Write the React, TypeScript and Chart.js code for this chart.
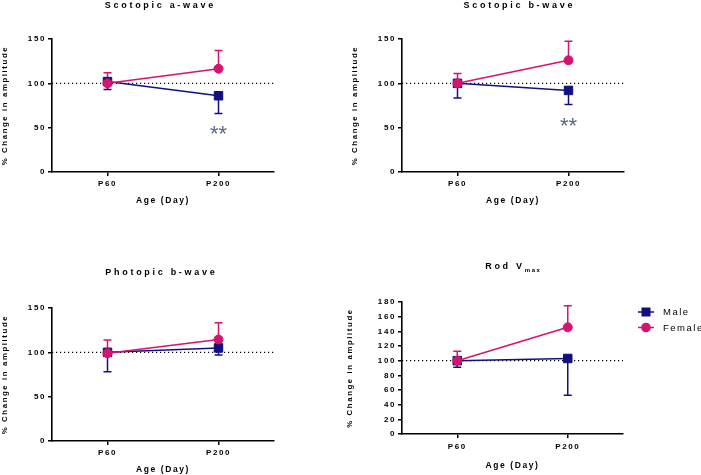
import React, { useEffect, useRef } from "react";
import { Chart, registerables } from "chart.js";
Chart.register(...registerables);

// ---------- data ----------
const ageLabels = ["P60", "P200"];

const scotopicAMale = [102, 86];
const scotopicAMaleErr = [9, 20];
const scotopicAFemale = [100, 116.5];
const scotopicAFemaleErr = [12, 20.5];

const scotopicBMale = [100, 92];
const scotopicBMaleErr = [16.5, 16];
const scotopicBFemale = [100, 126];
const scotopicBFemaleErr = [11, 21.5];

const photopicBMale = [100, 105];
const photopicBMaleErr = [22, 8];
const photopicBFemale = [99, 114.5];
const photopicBFemaleErr = [15, 19];

const rodVmaxMale = [100, 103];
const rodVmaxMaleErr = [9, 50];
const rodVmaxFemale = [100, 145.5];
const rodVmaxFemaleErr = [13, 29.5];

const yMaxWave = 150;
const yStepWave = 50;
const yMaxRod = 180;
const yStepRod = 20;
const baselineValue = 100;

const sigScotopicA = { text: "**", category: 1, value: 48.5 };
const sigScotopicB = { text: "**", category: 1, value: 58.6 };

const seriesNames = ["Male", "Female"];
const xAxisTitle = "Age (Day)";
const yAxisTitle = "% Change in amplitude";

// ---------- styles ----------
const FONT = 'Arial, "Liberation Sans", sans-serif';
const MALE = "#10107f";
const FEMALE = "#d4146e";
const SIG = "#5b6a85";

type PanelCfg = {
  key: string;
  left: number;
  top: number;
  width: number;
  height: number;
  pad: { left: number; right: number; top: number; bottom: number };
  yWidth: number;
  xHeight: number;
  xTickPad: number;
  yMax: number;
  yStep: number;
  male: number[];
  maleErr: number[];
  female: number[];
  femaleErr: number[];
  title: string;
  titleSub?: string;
  titleX: number;
  titleY: number;
  sig?: { text: string; category: number; value: number };
  legend?: { x: number; y: number; gap: number };
};

const panels: PanelCfg[] = [
  {
    key: "a",
    left: 0, top: 0, width: 330, height: 235,
    pad: { left: 0, right: 56, top: 39, bottom: 29 },
    yWidth: 52, xHeight: 34, xTickPad: 2.5,
    yMax: yMaxWave, yStep: yStepWave,
    male: scotopicAMale, maleErr: scotopicAMaleErr,
    female: scotopicAFemale, femaleErr: scotopicAFemaleErr,
    title: "Scotopic a-wave", titleX: 159, titleY: 5.5,
    sig: sigScotopicA,
  },
  {
    key: "b",
    left: 330, top: 0, width: 371, height: 235,
    pad: { left: 20, right: 77, top: 39, bottom: 29 },
    yWidth: 52, xHeight: 34, xTickPad: 2.5,
    yMax: yMaxWave, yStep: yStepWave,
    male: scotopicBMale, maleErr: scotopicBMaleErr,
    female: scotopicBFemale, femaleErr: scotopicBFemaleErr,
    title: "Scotopic b-wave", titleX: 188, titleY: 5.5,
    sig: sigScotopicB,
  },
  {
    key: "c",
    left: 0, top: 235, width: 330, height: 240,
    pad: { left: 0, right: 56, top: 73, bottom: 0 },
    yWidth: 52, xHeight: 34, xTickPad: 2.5,
    yMax: yMaxWave, yStep: yStepWave,
    male: photopicBMale, maleErr: photopicBMaleErr,
    female: photopicBFemale, femaleErr: photopicBFemaleErr,
    title: "Photopic b-wave", titleX: 160, titleY: 37.5,
  },
  {
    key: "d",
    left: 330, top: 235, width: 371, height: 240,
    pad: { left: 15, right: 78, top: 67, bottom: 4 },
    yWidth: 57, xHeight: 37, xTickPad: 4,
    yMax: yMaxRod, yStep: yStepRod,
    male: rodVmaxMale, maleErr: rodVmaxMaleErr,
    female: rodVmaxFemale, femaleErr: rodVmaxFemaleErr,
    title: "Rod V", titleSub: "max", titleX: 182, titleY: 32,
    legend: { x: 316, y: 77, gap: 15.5 },
  },
];

function makePlugin(p: PanelCfg) {
  return {
    id: "panelExtras",
    beforeUpdate(chart: any) {
      chart.ctx.letterSpacing = "1.6px";
    },
    beforeDraw(chart: any) {
      chart.ctx.letterSpacing = "1.6px";
    },
    beforeDatasetsDraw(chart: any) {
      const { ctx, chartArea } = chart;
      const xs = chart.scales.x;
      const ys = chart.scales.y;
      ctx.save();
      ctx.strokeStyle = "#000";
      ctx.lineWidth = 1.2;
      ctx.setLineDash([1.2, 2.8]);
      const yb = ys.getPixelForValue(baselineValue);
      ctx.beginPath();
      ctx.moveTo(chartArea.left, yb);
      ctx.lineTo(chartArea.right, yb);
      ctx.stroke();
      ctx.restore();

      const bars = [
        { mean: p.male, err: p.maleErr, dir: -1, color: MALE },
        { mean: p.female, err: p.femaleErr, dir: 1, color: FEMALE },
      ];
      bars.forEach((b) => {
        b.mean.forEach((m, i) => {
          const px = xs.getPixelForValue(i);
          const y0 = ys.getPixelForValue(m);
          const y1 = ys.getPixelForValue(m + b.dir * b.err[i]);
          ctx.save();
          ctx.strokeStyle = b.color;
          ctx.lineWidth = 1.5;
          ctx.beginPath();
          ctx.moveTo(px, y0);
          ctx.lineTo(px, y1);
          ctx.moveTo(px - 4, y1);
          ctx.lineTo(px + 4, y1);
          ctx.stroke();
          ctx.restore();
        });
      });
    },
    afterDraw(chart: any) {
      const { ctx } = chart;
      const xs = chart.scales.x;
      const ys = chart.scales.y;
      // title
      ctx.save();
      ctx.fillStyle = "#000";
      ctx.textBaseline = "middle";
      ctx.textAlign = "left";
      ctx.font = `bold 9px ${FONT}`;
      ctx.letterSpacing = "2.7px";
      const mainW = ctx.measureText(p.title).width;
      let subW = 0;
      if (p.titleSub) {
        ctx.font = `bold 6px ${FONT}`;
        ctx.letterSpacing = "1.6px";
        subW = ctx.measureText(p.titleSub).width;
      }
      const startX = p.titleX - (mainW + subW - 2.7) / 2;
      ctx.font = `bold 9px ${FONT}`;
      ctx.letterSpacing = "2.7px";
      ctx.fillText(p.title, startX, p.titleY);
      if (p.titleSub) {
        ctx.font = `bold 6px ${FONT}`;
        ctx.letterSpacing = "1.6px";
        ctx.fillText(p.titleSub, startX + mainW, p.titleY + 3.5);
      }
      ctx.restore();

      // significance
      if (p.sig) {
        ctx.save();
        ctx.fillStyle = SIG;
        ctx.font = `22px ${FONT}`;
        ctx.letterSpacing = "0px";
        ctx.textAlign = "center";
        ctx.textBaseline = "alphabetic";
        const px = xs.getPixelForValue(p.sig.category);
        const py = ys.getPixelForValue(p.sig.value);
        ctx.fillText(p.sig.text, px, py + 12.5);
        ctx.restore();
      }

      // legend
      if (p.legend) {
        const items = [
          { name: seriesNames[0], color: MALE, shape: "rect" },
          { name: seriesNames[1], color: FEMALE, shape: "circle" },
        ];
        items.forEach((it, i) => {
          const y = p.legend!.y + i * p.legend!.gap;
          const cx = p.legend!.x;
          ctx.save();
          ctx.strokeStyle = it.color;
          ctx.fillStyle = it.color;
          ctx.lineWidth = 1.5;
          ctx.beginPath();
          ctx.moveTo(cx - 8, y);
          ctx.lineTo(cx + 8, y);
          ctx.stroke();
          if (it.shape === "rect") {
            ctx.fillRect(cx - 4.5, y - 4.5, 9, 9);
          } else {
            ctx.beginPath();
            ctx.arc(cx, y, 4.8, 0, Math.PI * 2);
            ctx.fill();
          }
          ctx.fillStyle = "#000";
          ctx.font = `9.5px ${FONT}`;
          ctx.letterSpacing = "1.5px";
          ctx.textAlign = "left";
          ctx.textBaseline = "middle";
          ctx.fillText(it.name, cx + 17, y + 0.5);
          ctx.restore();
        });
      }
    },
  };
}

function Panel({ p }: { p: PanelCfg }) {
  const ref = useRef<HTMLCanvasElement | null>(null);
  useEffect(() => {
    if (!ref.current) return;
    const chart = new Chart(ref.current, {
      type: "line",
      data: {
        labels: ageLabels,
        datasets: [
          {
            label: seriesNames[0],
            data: p.male,
            borderColor: MALE,
            backgroundColor: MALE,
            borderWidth: 1.5,
            pointStyle: "rect",
            pointRadius: 6,
            pointBorderWidth: 1,
            order: 1,
          },
          {
            label: seriesNames[1],
            data: p.female,
            borderColor: FEMALE,
            backgroundColor: FEMALE,
            borderWidth: 1.5,
            pointStyle: "circle",
            pointRadius: 4.5,
            pointBorderWidth: 1,
            order: 0,
          },
        ],
      },
      options: {
        animation: false,
        responsive: false,
        devicePixelRatio: 1,
        layout: { padding: p.pad },
        plugins: {
          legend: { display: false },
          title: { display: false },
          tooltip: { enabled: false },
        },
        scales: {
          x: {
            type: "category",
            offset: true,
            grid: {
              offset: false,
              drawOnChartArea: false,
              drawTicks: true,
              tickLength: 4,
              color: "#000",
              lineWidth: 1.5,
            },
            border: { display: true, color: "#000", width: 1.6 },
            ticks: {
              color: "#000",
              padding: p.xTickPad,
              maxRotation: 0,
              font: { family: FONT, size: 8, weight: "bold" },
            },
            title: {
              display: true,
              text: xAxisTitle,
              color: "#000",
              padding: { top: 0, bottom: 0 },
              font: { family: FONT, size: 8.5, weight: "bold" },
            },
            afterFit: (s: any) => {
              s.height = p.xHeight;
            },
          },
          y: {
            min: 0,
            max: p.yMax,
            grid: {
              drawOnChartArea: false,
              drawTicks: true,
              tickLength: 4,
              color: "#000",
              lineWidth: 1.5,
            },
            border: { display: true, color: "#000", width: 1.6 },
            ticks: {
              stepSize: p.yStep,
              color: "#000",
              padding: 2,
              font: { family: FONT, size: 8, weight: "bold" },
            },
            title: {
              display: true,
              text: yAxisTitle,
              color: "#000",
              padding: { top: 0, bottom: 0 },
              font: { family: FONT, size: 7.8, weight: "bold" },
            },
            afterFit: (s: any) => {
              s.width = p.yWidth;
            },
          },
        },
      } as any,
      plugins: [makePlugin(p) as any],
    });
    return () => chart.destroy();
  }, [p]);
  return (
    <canvas
      ref={ref}
      width={p.width}
      height={p.height}
      style={{
        position: "absolute",
        left: p.left,
        top: p.top,
        width: p.width,
        height: p.height,
      }}
    />
  );
}

export default function App() {
  return (
    <div
      style={{
        position: "absolute",
        left: 0,
        top: 0,
        width: 701,
        height: 475,
        background: "#fff",
        overflow: "hidden",
      }}
    >
      {panels.map((p) => (
        <Panel key={p.key} p={p} />
      ))}
    </div>
  );
}
